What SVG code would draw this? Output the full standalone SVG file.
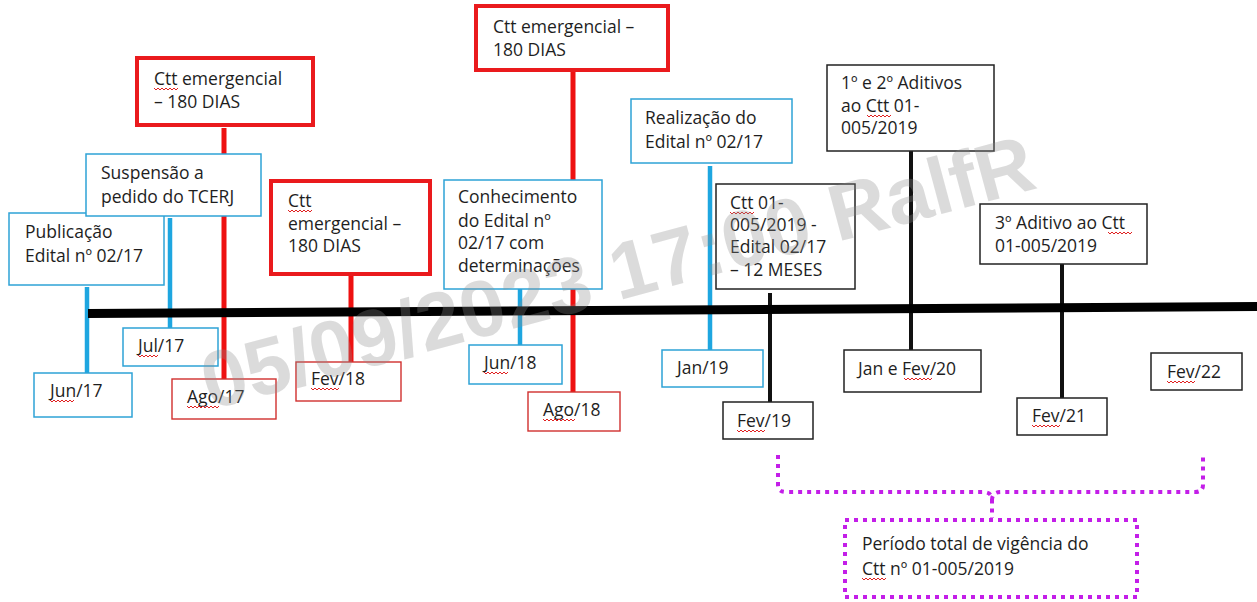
<svg xmlns="http://www.w3.org/2000/svg" xmlns:xlink="http://www.w3.org/1999/xlink" width="1257" height="602" viewBox="0 0 1257 602">
<style>
.bb{fill:#fff;stroke:#2ea3d6;stroke-width:1.5}
.rb{fill:#fff;stroke:#ea1a1d;stroke-width:4}
.rt{fill:#fff;stroke:#d0302e;stroke-width:1.4}
.kb{fill:#fff;stroke:#222;stroke-width:1.5}
.pb{fill:none;stroke:#c31ee8;stroke-width:4;stroke-dasharray:4 5}
.t{font-family:"Open Sans","Noto Sans",sans-serif;font-size:17.5px;fill:#1e1e1e}
.cb{stroke:#1ea6e0;stroke-width:4.5}
.cr{stroke:#ee1111;stroke-width:5}
.ck{stroke:#111;stroke-width:4}
.sq{fill:none;stroke:#e02020;stroke-width:1}
.wm{font-family:"Liberation Sans",Arial,sans-serif;font-weight:bold;font-size:80px;fill:#8c8c8c;opacity:0.3}
</style>
<defs>
<path id="z20" class="sq" d="M0,0 l2,2 2,-2 2,2 2,-2 2,2 2,-2 2,2 2,-2 2,2 2,-2"/>
<path id="z24" class="sq" d="M0,0 l2,2 2,-2 2,2 2,-2 2,2 2,-2 2,2 2,-2 2,2 2,-2 2,2 2,-2"/>
<path id="z28" class="sq" d="M0,0 l2,2 2,-2 2,2 2,-2 2,2 2,-2 2,2 2,-2 2,2 2,-2 2,2 2,-2 2,2 2,-2"/>
<path id="z32" class="sq" d="M0,0 l2,2 2,-2 2,2 2,-2 2,2 2,-2 2,2 2,-2 2,2 2,-2 2,2 2,-2 2,2 2,-2 2,2 2,-2"/>
</defs>
<rect width="1257" height="602" fill="#fff"/>
<g id="connectors">
<line class="cb" x1="87" y1="287" x2="87" y2="373"/>
<line class="cb" x1="170" y1="218" x2="170" y2="328"/>
<line class="cr" x1="224" y1="128" x2="224" y2="379"/>
<line class="cr" x1="351" y1="274" x2="351" y2="362"/>
<line class="cb" x1="520" y1="289" x2="520" y2="345"/>
<line class="cr" x1="573" y1="70" x2="573" y2="392"/>
<line class="cb" x1="710" y1="166" x2="710" y2="350"/>
<line class="ck" x1="770" y1="293" x2="770" y2="402"/>
<line class="ck" x1="911" y1="151" x2="911" y2="350"/>
<line class="ck" x1="1062" y1="264" x2="1062" y2="398"/>
<line id="timeline" x1="88" y1="313.5" x2="1257" y2="306.5" stroke="#000" stroke-width="9"/>
<path class="pb" d="M778,455 V485 Q778,492 786,492 H983 Q992,492 992,500 V518"/>
<path class="pb" d="M992,500 Q992,492 1001,492 H1195 Q1203,492 1203,485 V455"/>
</g>
<g id="n-publicacao"><rect class="bb" x="9" y="213" width="155" height="72"/><text class="t" x="25" y="238">Publicação</text><text class="t" x="25" y="262">Edital nº 02/17</text></g>
<g id="n-jun17"><rect class="bb" x="34" y="373" width="98" height="44"/><text class="t" x="50" y="397">Jun/17</text><use href="#z24" x="50" y="400"/></g>
<g id="n-suspensao"><rect class="bb" x="86" y="154" width="175" height="62"/><text class="t" x="101" y="179">Suspensão a</text><text class="t" x="101" y="203">pedido do TCERJ</text></g>
<g id="n-jul17"><rect class="bb" x="123" y="328" width="95" height="38"/><text class="t" x="138" y="352">Jul/17</text><use href="#z20" x="138" y="355"/></g>
<g id="n-emerg1"><rect class="rb" x="137" y="58" width="176" height="67"/><text class="t" x="154" y="85">Ctt emergencial</text><text class="t" x="154" y="108">– 180 DIAS</text><use href="#z24" x="154" y="88"/></g>
<g id="n-ago17"><rect class="rt" x="172" y="379" width="104" height="40"/><text class="t" x="187" y="403">Ago/17</text><use href="#z32" x="187" y="406"/></g>
<g id="n-emerg2"><rect class="rb" x="271" y="181" width="159" height="93"/><text class="t" x="288" y="207">Ctt</text><text class="t" x="288" y="230">emergencial –</text><text class="t" x="288" y="252">180 DIAS</text><use href="#z24" x="288" y="210"/></g>
<g id="n-fev18"><rect class="rt" x="296" y="362" width="105" height="39"/><text class="t" x="311" y="385">Fev/18</text><use href="#z28" x="311" y="388"/></g>
<g id="n-conhecimento"><rect class="bb" x="444" y="180" width="158" height="109"/><text class="t" x="458" y="203">Conhecimento</text><text class="t" x="458" y="227">do Edital nº</text><text class="t" x="458" y="249">02/17 com</text><text class="t" x="458" y="272">determinações</text></g>
<g id="n-jun18"><rect class="bb" x="469" y="345" width="93" height="39"/><text class="t" x="484" y="369">Jun/18</text><use href="#z24" x="484" y="372"/></g>
<g id="n-emerg3"><rect class="rb" x="476" y="6" width="192" height="64"/><text class="t" x="493" y="33">Ctt emergencial –</text><text class="t" x="493" y="56">180 DIAS</text></g>
<g id="n-ago18"><rect class="rt" x="528" y="392" width="92" height="39"/><text class="t" x="543" y="416">Ago/18</text><use href="#z32" x="543" y="419"/></g>
<g id="n-realizacao"><rect class="bb" x="631" y="99" width="161" height="64"/><text class="t" x="645" y="124">Realização do</text><text class="t" x="645" y="148">Edital nº 02/17</text></g>
<g id="n-jan19"><rect class="bb" x="662" y="350" width="101" height="37"/><text class="t" x="677" y="374">Jan/19</text></g>
<g id="n-ctt01"><rect class="kb" x="716" y="184" width="139" height="105"/><text class="t" x="730" y="209">Ctt 01-</text><text class="t" x="730" y="231">005/2019 -</text><text class="t" x="730" y="253">Edital 02/17</text><text class="t" x="730" y="276">– 12 MESES</text><use href="#z24" x="730" y="212"/></g>
<g id="n-fev19"><rect class="kb" x="723" y="402" width="90" height="37"/><text class="t" x="737" y="427">Fev/19</text><use href="#z28" x="737" y="430"/></g>
<g id="n-aditivos12"><rect class="kb" x="827" y="65" width="167" height="86"/><text class="t" x="841" y="89">1º e 2º Aditivos</text><text class="t" x="841" y="112">ao Ctt 01-</text><text class="t" x="841" y="134">005/2019</text><use href="#z24" x="867" y="115"/></g>
<g id="n-janfev20"><rect class="kb" x="844" y="350" width="137" height="42"/><text class="t" x="858" y="375">Jan e Fev/20</text><use href="#z28" x="904" y="378"/></g>
<g id="n-aditivo3"><rect class="kb" x="980" y="204" width="167" height="60"/><text class="t" x="995" y="229">3º Aditivo ao Ctt</text><text class="t" x="995" y="252">01-005/2019</text><use href="#z24" x="1108" y="232"/></g>
<g id="n-fev21"><rect class="kb" x="1017" y="398" width="90" height="37"/><text class="t" x="1032" y="422">Fev/21</text><use href="#z28" x="1032" y="425"/></g>
<g id="n-fev22"><rect class="kb" x="1151" y="353" width="91" height="37"/><text class="t" x="1167" y="378">Fev/22</text><use href="#z28" x="1167" y="381"/></g>
<g id="n-periodo"><rect class="pb" x="845" y="520" width="292" height="77"/><text class="t" x="862" y="550">Período total de vigência do</text><text class="t" x="862" y="575">Ctt nº 01-005/2019</text><use href="#z24" x="862" y="578"/></g>
<text class="wm" x="210" y="410" transform="rotate(-15 210 410)">05/09/2023 17:00 RalfR</text>
</svg>
